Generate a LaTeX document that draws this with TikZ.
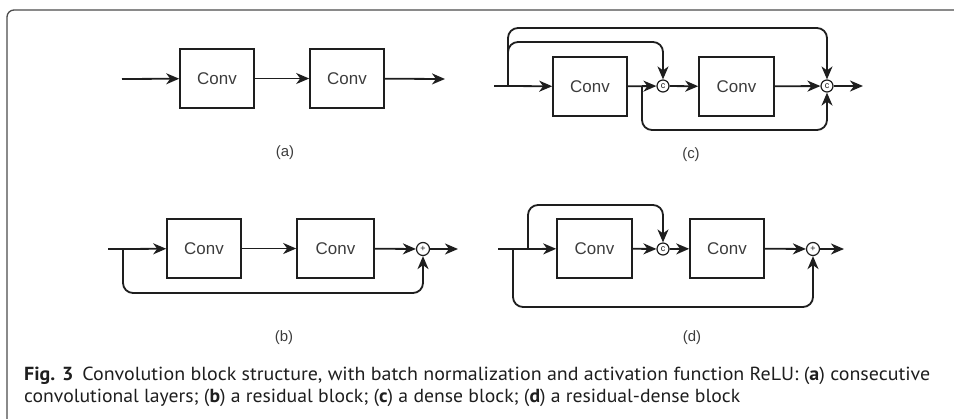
\documentclass[tikz,border=0pt]{standalone}
\usepackage{fontspec}
\setmainfont{Liberation Sans}
\newfontfamily\capfont{PT Sans}
\usetikzlibrary{arrows.meta}
\definecolor{ln}{HTML}{1E1E1E}
\definecolor{tx}{HTML}{3C3C3C}
\tikzset{
  tip/.style={-{Stealth[length=13bp,width=11bp,inset=4bp]}},
  arr/.style={draw=ln, line width=1.8bp, tip},
  wire/.style={draw=ln, line width=1.8bp},
  loop/.style={draw=ln, line width=1.8bp, rounded corners=10bp, tip},
  convbox/.style={draw=ln, line width=1.6bp, minimum width=74bp, minimum height=59bp, inner sep=0pt,
     font=\fontsize{17}{20}\selectfont, text=tx},
  opc/.style={circle, draw=ln, line width=1.2bp, minimum size=12bp, inner sep=0pt, font=\fontsize{9}{9}\selectfont, text=ln},
  sublab/.style={font=\fontsize{15}{17}\selectfont, text=tx},
  captxt/.style={anchor=base west, inner sep=0pt, font=\capfont\fontsize{19}{22}\selectfont, text=ln}
}
\begin{document}
\begin{tikzpicture}[x=1bp,y=-1bp]
\useasboundingbox (0,0) rectangle (954,418);
% frame
\draw[draw=gray!60!black, line width=1.3bp, rounded corners=7bp] (7,419) -- (7,10) -- (955,10);

% ---------- (a)
\coordinate (ain) at (122,79);
\node[convbox] (a1) at (217,78.5) {Conv};
\node[convbox] (a2) at (347,78.5) {Conv};
\coordinate (aout) at (445,79);
\draw[arr] (ain) -- (a1);
\draw[arr] (a1) -- (a2);
\draw[arr] (a2) -- (aout);
\node[sublab] (la) at (285,153) {(a)};

% ---------- (b)
\coordinate (bin) at (108,249);
\coordinate (bbr) at (123,249);
\node[convbox] (b1) at (204,248.5) {Conv};
\node[convbox, minimum width=77bp] (b2) at (335.5,248.5) {Conv};
\node[opc, minimum size=13bp] (bp) at (423,249) {+};
\coordinate (bout) at (458,249);
\draw[wire] (bin) -- (bbr);
\draw[arr] (bbr) -- (b1);
\draw[arr] (b1) -- (b2);
\draw[arr] (b2) -- (bp);
\draw[arr] (bp) -- (bout);
\draw[loop] (bbr) -- (123,293) -- (423,293) -- (bp.south);
\node[sublab] (lb) at (284,338) {(b)};

% ---------- (c)
\coordinate (cin) at (494,86);
\coordinate (cbr) at (508,86);
\node[convbox] (c1) at (590,86.5) {Conv};
\node[opc] (cc1) at (663,86) {c};
\node[convbox, minimum width=75bp] (c2) at (736.5,86.5) {Conv};
\node[opc] (cc2) at (827,86) {c};
\coordinate (cout) at (863,86);
\coordinate (cbr2) at (642,86);
\draw[wire] (cin) -- (cbr);
\draw[arr] (cbr) -- (c1);
\draw[arr] (c1) -- (cc1);
\draw[arr] (cc1) -- (c2);
\draw[arr] (c2) -- (cc2);
\draw[arr] (cc2) -- (cout);
\draw[loop] (cbr) -- (508,28) -- (827,28) -- (cc2.north);
\draw[loop] (cbr) -- (508,42) -- (663,42) -- (cc1.north);
\draw[loop] (cbr2) -- (642,130) -- (827,130) -- (cc2.south);
\node[sublab] (lc) at (691,155) {(c)};

% ---------- (d)
\coordinate (din) at (498,249);
\coordinate (dbr1) at (513,249);
\coordinate (dbr2) at (528,249);
\node[convbox, minimum width=75bp] (d1) at (594.5,248.5) {Conv};
\node[opc] (dc) at (663,249) {c};
\node[convbox] (d2) at (727,248.5) {Conv};
\node[opc, minimum size=13bp] (dp) at (813,249) {+};
\coordinate (dout) at (844,249);
\draw[wire] (din) -- (dbr2);
\draw[arr] (dbr2) -- (d1);
\draw[arr] (d1) -- (dc);
\draw[arr] (dc) -- (d2);
\draw[arr] (d2) -- (dp);
\draw[arr] (dp) -- (dout);
\draw[loop] (dbr2) -- (528,205) -- (663,205) -- (dc.north);
\draw[loop] (dbr1) -- (513,307) -- (813,307) -- (dp.south);
\node[sublab] (ld) at (692,338) {(d)};

% ---------- caption
\node[captxt] (cap1) at (24,380) {\resizebox{906bp}{\height}{\textbf{Fig. 3}\hspace{0.45em}Convolution block structure, with batch normalization and activation function ReLU: (\textbf{a}) consecutive}};
\node[captxt] (cap2) at (24,402) {\resizebox{716bp}{\height}{convolutional layers; (\textbf{b}) a residual block; (\textbf{c}) a dense block; (\textbf{d}) a residual-dense block}};
\end{tikzpicture}
\end{document}
